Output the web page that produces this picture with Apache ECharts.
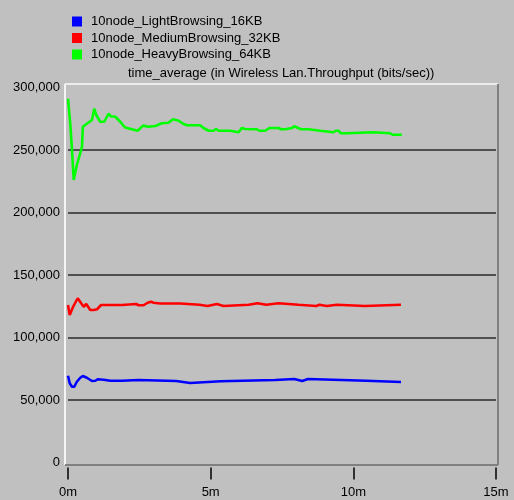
<!DOCTYPE html>
<html>
<head>
<meta charset="utf-8">
<script src="https://cdn.jsdelivr.net/npm/echarts@6/dist/echarts.min.js"></script>
<style>
  html, body { margin: 0; padding: 0; background: #c0c0c0; }
  #chart { width: 514px; height: 500px; }
</style>
</head>
<body>
<div id="chart"></div>
<script>
// Wireless LAN throughput (time average), simulated minutes vs bits/sec
const seriesNames = [
  '10node_LightBrowsing_16KB',
  '10node_MediumBrowsing_32KB',
  '10node_HeavyBrowsing_64KB'
];
const seriesColors = ['#0000ff', '#ff0000', '#00ff00'];
const chartTitle = 'time_average (in Wireless Lan.Throughput (bits/sec))';
const xTicks = [0, 5, 10, 15];
const yTicks = [0, 50000, 100000, 150000, 200000, 250000, 300000];

// Light browsing, 16KB pages
const lightTime = [0, 0.06, 0.14, 0.22, 0.31, 0.43, 0.52, 0.66, 0.84, 0.96, 1.04, 1.25, 1.48, 1.89, 1.95,
  2.47, 2.53, 3.79, 3.82, 4.28, 4.31, 5.36, 5.39, 7.26, 7.3, 7.93, 7.97, 8.21, 8.25, 8.41, 8.44,
  10.45, 10.49, 11.67];
const lightThroughput = [69400, 63400, 60600, 60600, 64600, 67800, 69200, 67800, 65200, 65400, 66600, 66200, 65400, 65400, 66000,
  66000, 65200, 65200, 63600, 63600, 65000, 65000, 66000, 66000, 66800, 66800, 65200, 65200, 66800, 66800, 65400,
  65400, 64400, 64400];

// Medium browsing, 32KB pages
const mediumTime = [0, 0.06, 0.12, 0.18, 0.22, 0.34, 0.46, 0.55, 0.64, 0.78, 0.9, 1.02, 1.16, 1.89, 1.95,
  2.39, 2.47, 2.65, 2.79, 2.91, 3.0, 3.23, 3.93, 3.95, 4.61, 4.66, 4.89, 4.93, 5.22, 5.25, 5.45, 5.49,
  6.33, 6.37, 6.64, 6.68, 6.95, 6.99, 7.38, 7.44, 8.08, 8.14, 8.7, 8.74, 8.81, 8.86, 9.07, 9.11,
  9.42, 9.46, 10.41, 10.45, 11.67];
const mediumThroughput = [126000, 118000, 118800, 124600, 123400, 131400, 127400, 124600, 126800, 122000, 122000, 122600, 126000, 126000, 126800,
  126800, 125800, 125800, 127800, 128600, 127800, 127200, 127200, 126200, 126200, 125200, 125200, 126800, 126800, 125200, 125200, 126200,
  126200, 127400, 127400, 126200, 126200, 127400, 127400, 126200, 126200, 125200, 125200, 126200, 126200, 125200, 125200, 126200,
  126200, 125200, 125200, 126200, 126200];

// Heavy browsing, 64KB pages
const heavyTime = [0, 0.08, 0.14, 0.2, 0.24, 0.31, 0.41, 0.49, 0.52, 0.66, 0.84, 0.92, 0.99, 1.13, 1.27,
  1.42, 1.5, 1.66, 1.83, 2.0, 2.24, 2.44, 2.63, 2.82, 3.06, 3.29, 3.52, 3.68, 3.88, 4.05, 4.17,
  4.63, 4.75, 4.93, 5.1, 5.19, 5.28, 5.68, 5.74, 5.98, 6.09, 6.21, 6.62, 6.71, 6.91, 7.06, 7.38,
  7.46, 7.61, 7.67, 7.85, 7.93, 8.0, 8.16, 8.43, 8.49, 8.84, 8.9, 9.3, 9.39, 9.48, 9.56, 9.77,
  9.83, 10.7, 10.76, 11.29, 11.38, 11.7];
const heavyThroughput = [291000, 271000, 250000, 226000, 224600, 238000, 246000, 252600, 268600, 271000, 274000, 283000, 278000, 272600, 272600,
  279000, 277000, 276600, 272600, 268000, 266600, 265400, 269500, 268600, 269200, 271400, 271800, 274600, 273400, 270800, 269800,
  269800, 267600, 265400, 265400, 266800, 265400, 265400, 264200, 264200, 267600, 266800, 266600, 265400, 265400, 267600, 267600,
  266600, 266600, 267600, 267600, 269000, 267600, 266600, 266600, 265400, 265400, 264200, 264200, 265400, 265400, 263400, 263400,
  264200, 264200, 263400, 263400, 262200, 262200];

const seriesTimes = [lightTime, mediumTime, heavyTime];
const seriesValues = [lightThroughput, mediumThroughput, heavyThroughput];

const FONT = '"Liberation Sans", Arial, sans-serif';

// plot frame in window pixels (sunken 3D border)
const frame = { x0: 65, y0: 84, x1: 498, y1: 465 };

const chart = echarts.init(document.getElementById('chart'), null, { renderer: 'canvas' });

const series = seriesNames.map((name, i) => ({
  name: name,
  type: 'line',
  data: seriesTimes[i].map((t, k) => [t, seriesValues[i][k]]),
  showSymbol: false,
  symbol: 'none',
  smooth: false,
  z: 5,
  lineStyle: { color: seriesColors[i], width: 2.6 },
  itemStyle: { color: seriesColors[i] },
  emphasis: { disabled: true }
}));

chart.setOption({
  animation: false,
  backgroundColor: '#c0c0c0',
  title: {
    text: chartTitle,
    left: 123,
    top: 62,
    textStyle: { fontFamily: FONT, fontSize: 13, fontWeight: 'normal', color: '#000' }
  },
  legend: {
    orient: 'vertical',
    left: 67,
    top: 10,
    itemWidth: 10,
    itemHeight: 10,
    itemGap: 3.5,
    icon: 'rect',
    data: seriesNames,
    selectedMode: false,
    textStyle: { fontFamily: FONT, fontSize: 13, color: '#000', lineHeight: 11, padding: [0, 0, 0, 4] }
  },
  grid: { left: 68, right: 18, top: 87.5, bottom: 37.5, containLabel: false },
  xAxis: {
    type: 'value',
    min: xTicks[0],
    max: xTicks[xTicks.length - 1],
    interval: 5,
    offset: 5,
    axisLine: { show: false, onZero: false },
    axisTick: { show: true, length: 12, lineStyle: { color: '#000', width: 1.5 } },
    splitLine: { show: false },
    axisLabel: {
      margin: 18,
      fontFamily: FONT, fontSize: 13, color: '#000',
      formatter: v => v + 'm'
    }
  },
  yAxis: {
    type: 'value',
    min: yTicks[0],
    max: yTicks[yTicks.length - 1],
    interval: 50000,
    axisLine: { show: false },
    axisTick: { show: false },
    splitLine: {
      show: true,
      showMinLine: false,
      showMaxLine: false,
      lineStyle: { color: '#2a2a2a', width: 1.5 }
    },
    axisLabel: {
      margin: 8,
      fontFamily: FONT, fontSize: 13, color: '#000',
      formatter: v => v.toLocaleString('en-US')
    }
  },
  graphic: [
    { type: 'line', shape: { x1: frame.x0, y1: frame.y0, x2: frame.x1, y2: frame.y0 }, style: { stroke: '#ececec', lineWidth: 2 }, z: 1 },
    { type: 'line', shape: { x1: frame.x0, y1: frame.y0, x2: frame.x0, y2: frame.y1 }, style: { stroke: '#f4f4f4', lineWidth: 2 }, z: 1 },
    { type: 'line', shape: { x1: frame.x1, y1: frame.y0, x2: frame.x1, y2: frame.y1 }, style: { stroke: '#808080', lineWidth: 2 }, z: 1 },
    { type: 'line', shape: { x1: frame.x0, y1: frame.y1, x2: frame.x1, y2: frame.y1 }, style: { stroke: '#808080', lineWidth: 2 }, z: 1 }
  ],
  series: series
});
</script>
</body>
</html>
